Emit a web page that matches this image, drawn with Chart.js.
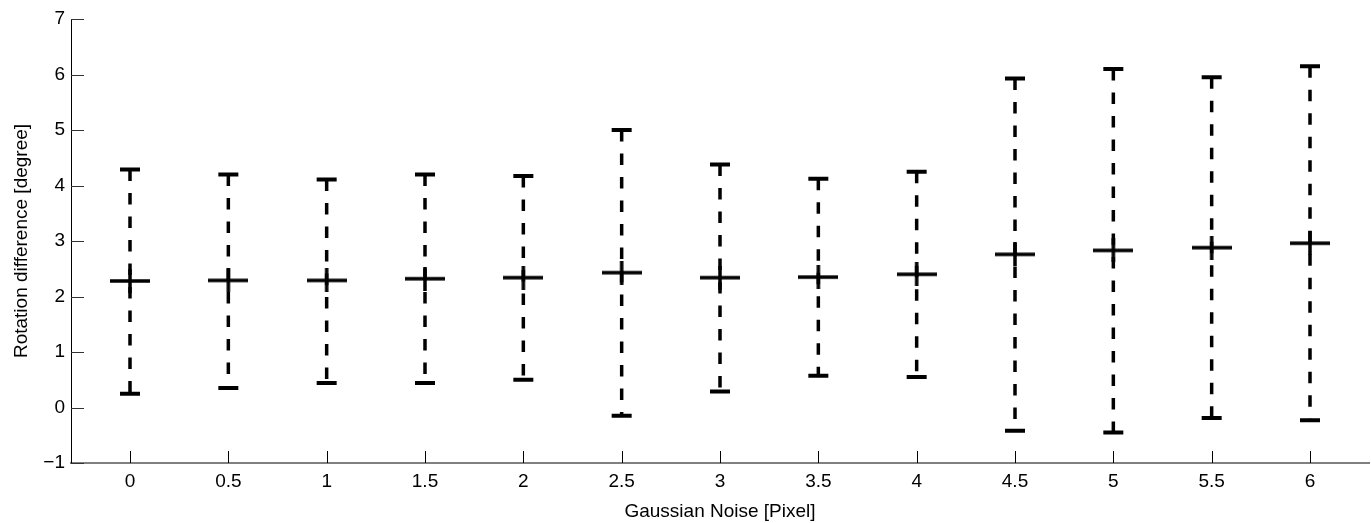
<!DOCTYPE html>
<html>
<head>
<meta charset="utf-8">
<script src="https://cdn.jsdelivr.net/npm/chart.js@4/dist/chart.umd.min.js"></script>
<style>
  html, body { margin: 0; padding: 0; background: #fff; }
  #chart { display: block; }
</style>
</head>
<body>
<canvas id="chart" width="1371" height="523"></canvas>
<script>
// values
const noiseLevels = [0, 0.5, 1, 1.5, 2, 2.5, 3, 3.5, 4, 4.5, 5, 5.5, 6];
const meanValues  = [2.28, 2.29, 2.29, 2.32, 2.34, 2.43, 2.34, 2.35, 2.40, 2.76, 2.83, 2.88, 2.96];
const upperValues = [4.29, 4.20, 4.11, 4.20, 4.17, 5.00, 4.38, 4.12, 4.25, 5.93, 6.10, 5.95, 6.15];
const lowerValues = [0.25, 0.35, 0.44, 0.44, 0.50, -0.15, 0.29, 0.57, 0.55, -0.42, -0.45, -0.19, -0.23];
const xTickValues = [0, 0.5, 1, 1.5, 2, 2.5, 3, 3.5, 4, 4.5, 5, 5.5, 6];
const yTickValues = [-1, 0, 1, 2, 3, 4, 5, 6, 7];

const fontFamily = '"Liberation Sans", Arial, Helvetica, sans-serif';

// the "+" marker, wider than tall
const plus = document.createElement('canvas');
plus.width = 40;
plus.height = 24;
const pc = plus.getContext('2d');
pc.strokeStyle = '#000';
pc.lineWidth = 3.5;
pc.beginPath();
pc.moveTo(0, 12); pc.lineTo(40, 12);
pc.moveTo(20, 0); pc.lineTo(20, 24);
pc.stroke();

// dashed error bars with caps
const errorBars = {
  id: 'errorBars',
  beforeDatasetsDraw(chart) {
    const ctx = chart.ctx;
    const x = chart.scales.x, y = chart.scales.y;
    ctx.save();
    ctx.strokeStyle = '#000';
    noiseLevels.forEach((n, i) => {
      const px = x.getPixelForValue(n);
      const top = y.getPixelForValue(upperValues[i]);
      const bot = y.getPixelForValue(lowerValues[i]);
      ctx.lineWidth = 3.5;
      ctx.setLineDash([11.5, 12]);
      ctx.beginPath();
      ctx.moveTo(px, top);
      ctx.lineTo(px, bot);
      ctx.stroke();
      ctx.setLineDash([]);
      ctx.lineWidth = 4;
      ctx.beginPath();
      ctx.moveTo(px - 10, top); ctx.lineTo(px + 10, top);
      ctx.moveTo(px - 10, bot); ctx.lineTo(px + 10, bot);
      ctx.stroke();
    });
    ctx.restore();
  }
};

// inward ticks like the original
const innerTicks = {
  id: 'innerTicks',
  afterDraw(chart) {
    const ctx = chart.ctx;
    const area = chart.chartArea;
    const x = chart.scales.x, y = chart.scales.y;
    ctx.save();
    ctx.lineWidth = 1;
    ctx.strokeStyle = '#333';
    ctx.beginPath();
    yTickValues.forEach(v => {
      const py = Math.round(y.getPixelForValue(v)) + 0.5;
      ctx.moveTo(area.left, py);
      ctx.lineTo(area.left + 13, py);
    });
    ctx.stroke();
    ctx.strokeStyle = '#000';
    ctx.beginPath();
    xTickValues.forEach(v => {
      const px = Math.round(x.getPixelForValue(v)) + 0.5;
      ctx.moveTo(px, area.bottom);
      ctx.lineTo(px, area.bottom - 12);
    });
    ctx.stroke();
    ctx.restore();
  }
};

const chart = new Chart(document.getElementById('chart'), {
  type: 'scatter',
  data: {
    datasets: [{
      label: 'mean',
      data: noiseLevels.map((n, i) => ({ x: n, y: meanValues[i] })),
      pointStyle: plus,
      pointRadius: 20,
      showLine: false
    }]
  },
  options: {
    responsive: false,
    animation: false,
    layout: { autoPadding: false, padding: { top: 19, right: 2, left: 0, bottom: 0 } },
    plugins: {
      legend: { display: false },
      tooltip: { enabled: false }
    },
    scales: {
      x: {
        type: 'linear',
        min: -0.3,
        max: 6.3,
        afterBuildTicks: s => { s.ticks = xTickValues.map(v => ({ value: v })); },
        afterFit: s => { s.height = 60; },
        grid: { display: false, drawTicks: false },
        border: { display: true, color: '#808080', width: 2 },
        ticks: {
          color: '#000',
          padding: 7,
          maxRotation: 0,
          autoSkip: false,
          font: { family: fontFamily, size: 19 },
          callback: v => String(v)
        },
        title: {
          display: true,
          text: 'Gaussian Noise [Pixel]',
          color: '#000',
          padding: { top: 0, bottom: 0 },
          font: { family: fontFamily, size: 19 }
        }
      },
      y: {
        min: -1,
        max: 7,
        afterBuildTicks: s => { s.ticks = yTickValues.map(v => ({ value: v })); },
        afterFit: s => { s.width = 71; },
        grid: { display: false, drawTicks: false },
        border: { display: true, color: '#000', width: 1 },
        ticks: {
          color: '#000',
          padding: 6,
          autoSkip: false,
          font: { family: fontFamily, size: 19 },
          callback: v => String(v).replace('-', '\u2212')
        },
        title: {
          display: true,
          text: 'Rotation difference [degree]',
          color: '#000',
          padding: { top: 10, bottom: 0 },
          font: { family: fontFamily, size: 19 }
        }
      }
    }
  },
  plugins: [errorBars, innerTicks]
});
</script>
</body>
</html>
